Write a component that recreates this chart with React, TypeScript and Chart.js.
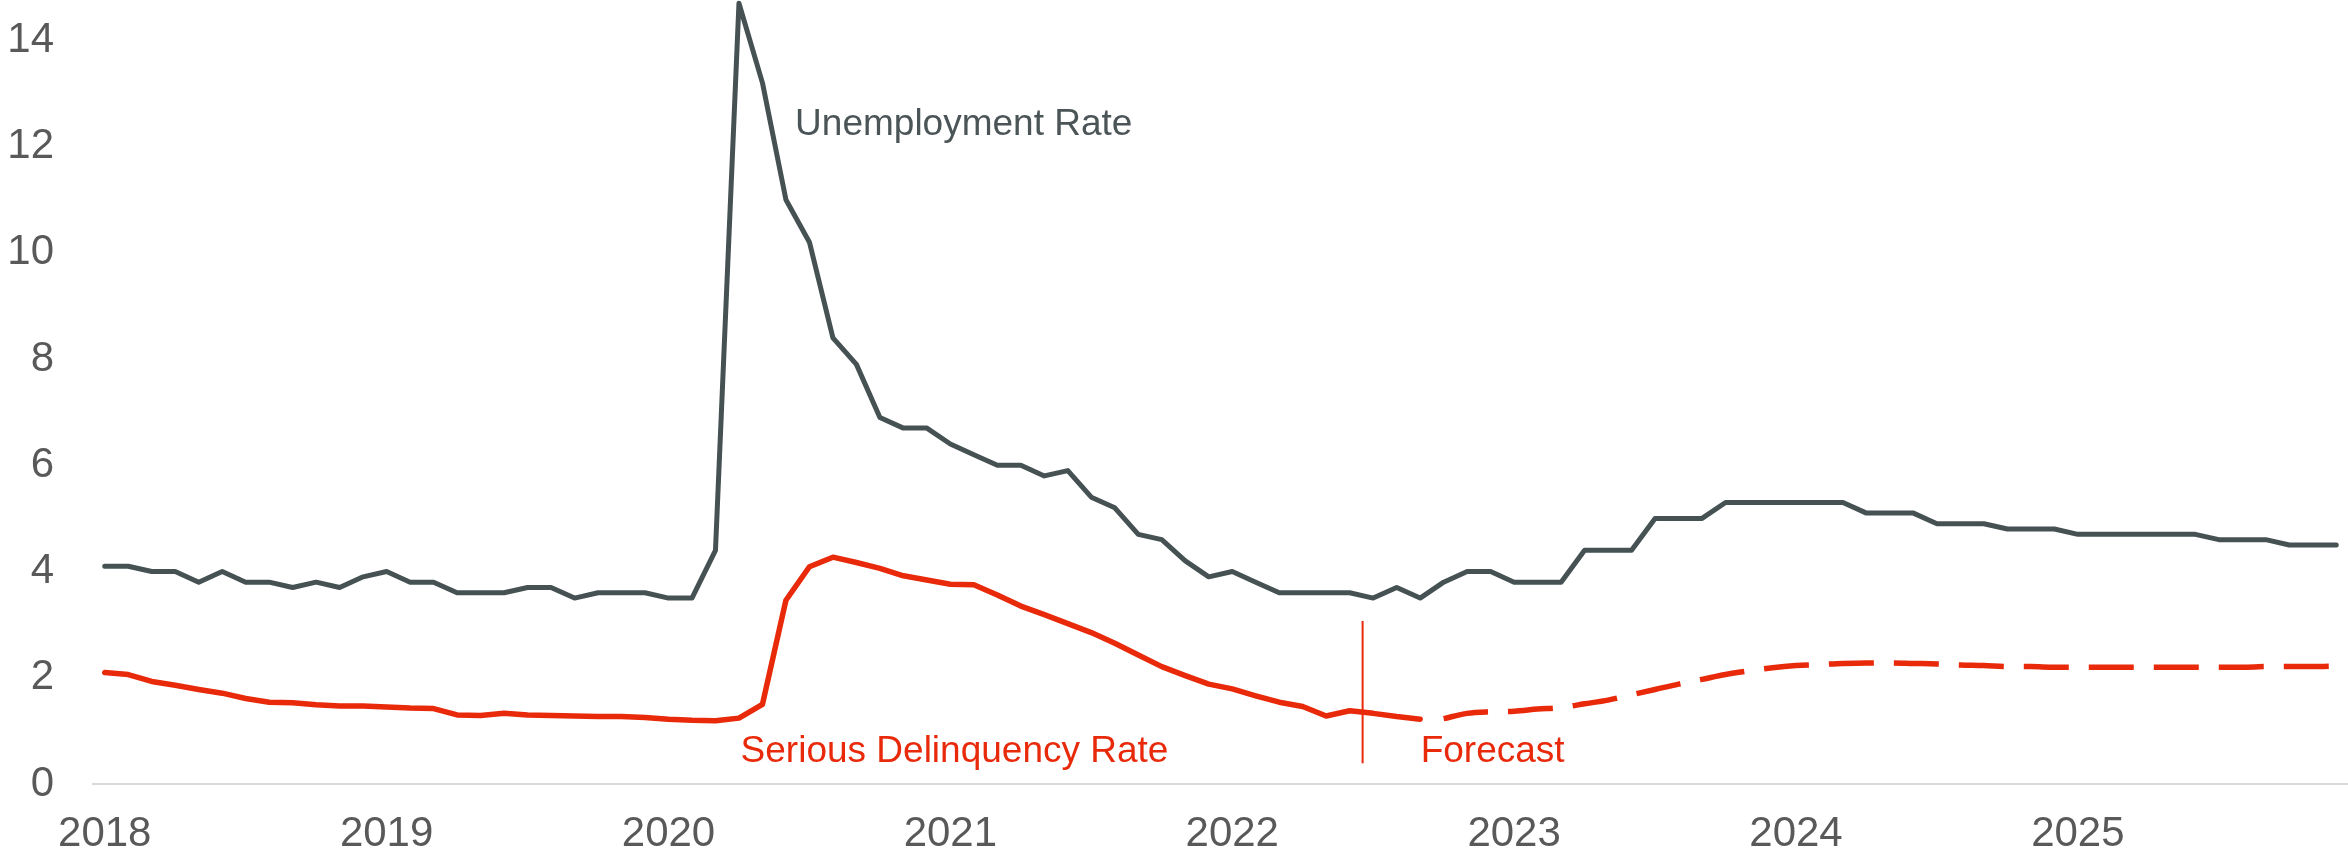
import React, { useEffect, useRef } from 'react';
import { Chart, registerables } from 'chart.js';

Chart.register(...registerables);

// ---- Data ----
const years = ['2018', '2019', '2020', '2021', '2022', '2023', '2024', '2025'];

// Monthly unemployment rate, Jan 2018 - Dec 2025 (%)
const unemploymentRate = [
  4.1, 4.1, 4.0, 4.0, 3.8, 4.0, 3.8, 3.8, 3.7, 3.8, 3.7, 3.9,
  4.0, 3.8, 3.8, 3.6, 3.6, 3.6, 3.7, 3.7, 3.5, 3.6, 3.6, 3.6,
  3.5, 3.5, 4.4, 14.7, 13.2, 11.0, 10.2, 8.4, 7.9, 6.9, 6.7, 6.7,
  6.4, 6.2, 6.0, 6.0, 5.8, 5.9, 5.4, 5.2, 4.7, 4.6, 4.2, 3.9,
  4.0, 3.8, 3.6, 3.6, 3.6, 3.6, 3.5, 3.7, 3.5, 3.8, 4.0, 4.0,
  3.8, 3.8, 3.8, 4.4, 4.4, 4.4, 5.0, 5.0, 5.0, 5.3, 5.3, 5.3,
  5.3, 5.3, 5.3, 5.1, 5.1, 5.1, 4.9, 4.9, 4.9, 4.8, 4.8, 4.8,
  4.7, 4.7, 4.7, 4.7, 4.7, 4.7, 4.6, 4.6, 4.6, 4.5, 4.5, 4.5,
];

// Serious delinquency rate, actual: Jan 2018 - Sep 2022 (%)
const delinquencyActual = [
  2.10, 2.06, 1.93, 1.86, 1.78, 1.71, 1.61, 1.54, 1.53, 1.49, 1.47, 1.47,
  1.45, 1.43, 1.42, 1.30, 1.29, 1.33, 1.30, 1.29, 1.28, 1.27, 1.27, 1.25,
  1.22, 1.20, 1.19, 1.24, 1.50, 3.46, 4.09, 4.27, 4.17, 4.06, 3.92, 3.84,
  3.76, 3.75, 3.56, 3.35, 3.19, 3.02, 2.85, 2.65, 2.43, 2.21, 2.04, 1.88,
  1.79, 1.66, 1.54, 1.46, 1.28, 1.38, 1.33, 1.27, 1.22,
];

// Serious delinquency rate, forecast: Oct 2022 - Dec 2025 (%)
const delinquencyForecast = [
  1.23, 1.33, 1.36,
  1.37, 1.41, 1.44, 1.51, 1.58, 1.68, 1.78, 1.88, 1.97, 2.06, 2.13, 2.19,
  2.23, 2.25, 2.27, 2.28, 2.28, 2.27, 2.26, 2.24, 2.23, 2.21, 2.21, 2.20,
  2.20, 2.20, 2.20, 2.20, 2.20, 2.20, 2.20, 2.20, 2.21, 2.21, 2.21, 2.22,
];

const yTickStep = 2;
const yMax = 14.76;

// Annotation anchors in data units (month index, percent)
const forecastMarker = { x: 53.55, yFrom: 0.39, yTo: 3.07 };
const unemploymentLabel = { text: 'Unemployment Rate', x: 29.39, y: 12.22 };
const delinquencyLabel = { text: 'Serious Delinquency Rate', x: 27.07, y: 0.41 };
const forecastLabel = { text: 'Forecast', x: 56.02, y: 0.42 };

const FONT = '"Liberation Sans", Arial, Helvetica, sans-serif';
const GREY_LINE = '#465154';
const GREY_TEXT = '#4b5558';
const RED = '#e8290a';
const TICK_COLOR = '#595959';

const monthLabels = years.flatMap((y) =>
  Array.from({ length: 12 }, (_, m) => `${y}-${String(m + 1).padStart(2, '0')}`)
);

const annotationPlugin = {
  id: 'annotations',
  afterDatasetsDraw(chart: any) {
    const { ctx, scales } = chart;
    const xs = scales.x;
    const ys = scales.y;
    ctx.save();
    // forecast marker line
    ctx.strokeStyle = RED;
    ctx.lineWidth = 2;
    ctx.beginPath();
    const fx = xs.getPixelForValue(forecastMarker.x);
    ctx.moveTo(fx, ys.getPixelForValue(forecastMarker.yFrom));
    ctx.lineTo(fx, ys.getPixelForValue(forecastMarker.yTo));
    ctx.stroke();

    ctx.font = `37px ${FONT}`;
    ctx.textAlign = 'left';
    ctx.textBaseline = 'alphabetic';
    ctx.fillStyle = GREY_TEXT;
    ctx.fillText(
      unemploymentLabel.text,
      xs.getPixelForValue(unemploymentLabel.x),
      ys.getPixelForValue(unemploymentLabel.y)
    );
    ctx.fillStyle = RED;
    ctx.fillText(
      delinquencyLabel.text,
      xs.getPixelForValue(delinquencyLabel.x),
      ys.getPixelForValue(delinquencyLabel.y)
    );
    ctx.fillText(
      forecastLabel.text,
      xs.getPixelForValue(forecastLabel.x),
      ys.getPixelForValue(forecastLabel.y)
    );
    ctx.restore();
  },
};

export default function App() {
  const canvasRef = useRef<HTMLCanvasElement | null>(null);

  useEffect(() => {
    if (!canvasRef.current) return;
    const forecastData = [
      ...Array(delinquencyActual.length).fill(null),
      ...delinquencyForecast,
    ];
    const chart = new Chart(canvasRef.current, {
      type: 'line',
      data: {
        labels: monthLabels,
        datasets: [
          {
            label: 'Unemployment Rate',
            data: unemploymentRate,
            borderColor: GREY_LINE,
            borderWidth: 5,
            pointRadius: 0,
            tension: 0,
            borderCapStyle: 'round',
            borderJoinStyle: 'round',
            fill: false,
          },
          {
            label: 'Serious Delinquency Rate',
            data: delinquencyActual,
            borderColor: RED,
            borderWidth: 5.5,
            pointRadius: 0,
            tension: 0,
            borderCapStyle: 'round',
            borderJoinStyle: 'round',
            fill: false,
          },
          {
            label: 'Forecast',
            data: forecastData,
            borderColor: RED,
            borderWidth: 5.5,
            borderDash: [45, 20],
            pointRadius: 0,
            cubicInterpolationMode: 'monotone',
            borderCapStyle: 'butt',
            fill: false,
          },
        ],
      },
      options: {
        animation: false,
        responsive: true,
        maintainAspectRatio: false,
        layout: { padding: 0 },
        plugins: {
          legend: { display: false },
          tooltip: { enabled: false },
        },
        scales: {
          x: {
            type: 'category',
            offset: true,
            grid: { display: false, drawTicks: false },
            border: { display: true, color: '#d9d9d9', width: 2 },
            ticks: {
              autoSkip: false,
              maxRotation: 0,
              minRotation: 0,
              padding: 25,
              color: TICK_COLOR,
              font: { family: FONT, size: 42 },
              callback: (_v: any, index: number) =>
                index % 12 === 0 ? years[index / 12] : '',
            },
            afterFit: (scale: any) => {
              scale.height = 73;
              scale.paddingLeft = 0;
              scale.paddingRight = 0;
            },
          },
          y: {
            min: 0,
            max: yMax,
            grid: { display: false, drawTicks: false },
            border: { display: false },
            ticks: {
              stepSize: yTickStep,
              includeBounds: false,
              padding: 39,
              color: TICK_COLOR,
              font: { family: FONT, size: 42 },
            },
            afterFit: (scale: any) => {
              scale.width = 93;
              scale.paddingTop = 0;
              scale.paddingBottom = 0;
            },
          },
        },
      },
      plugins: [annotationPlugin],
    } as any);
    return () => chart.destroy();
  }, []);

  return (
    <div
      style={{
        position: 'absolute',
        left: 0,
        top: 0,
        width: 2348,
        height: 857,
        background: '#ffffff',
      }}
    >
      <canvas ref={canvasRef} />
    </div>
  );
}
